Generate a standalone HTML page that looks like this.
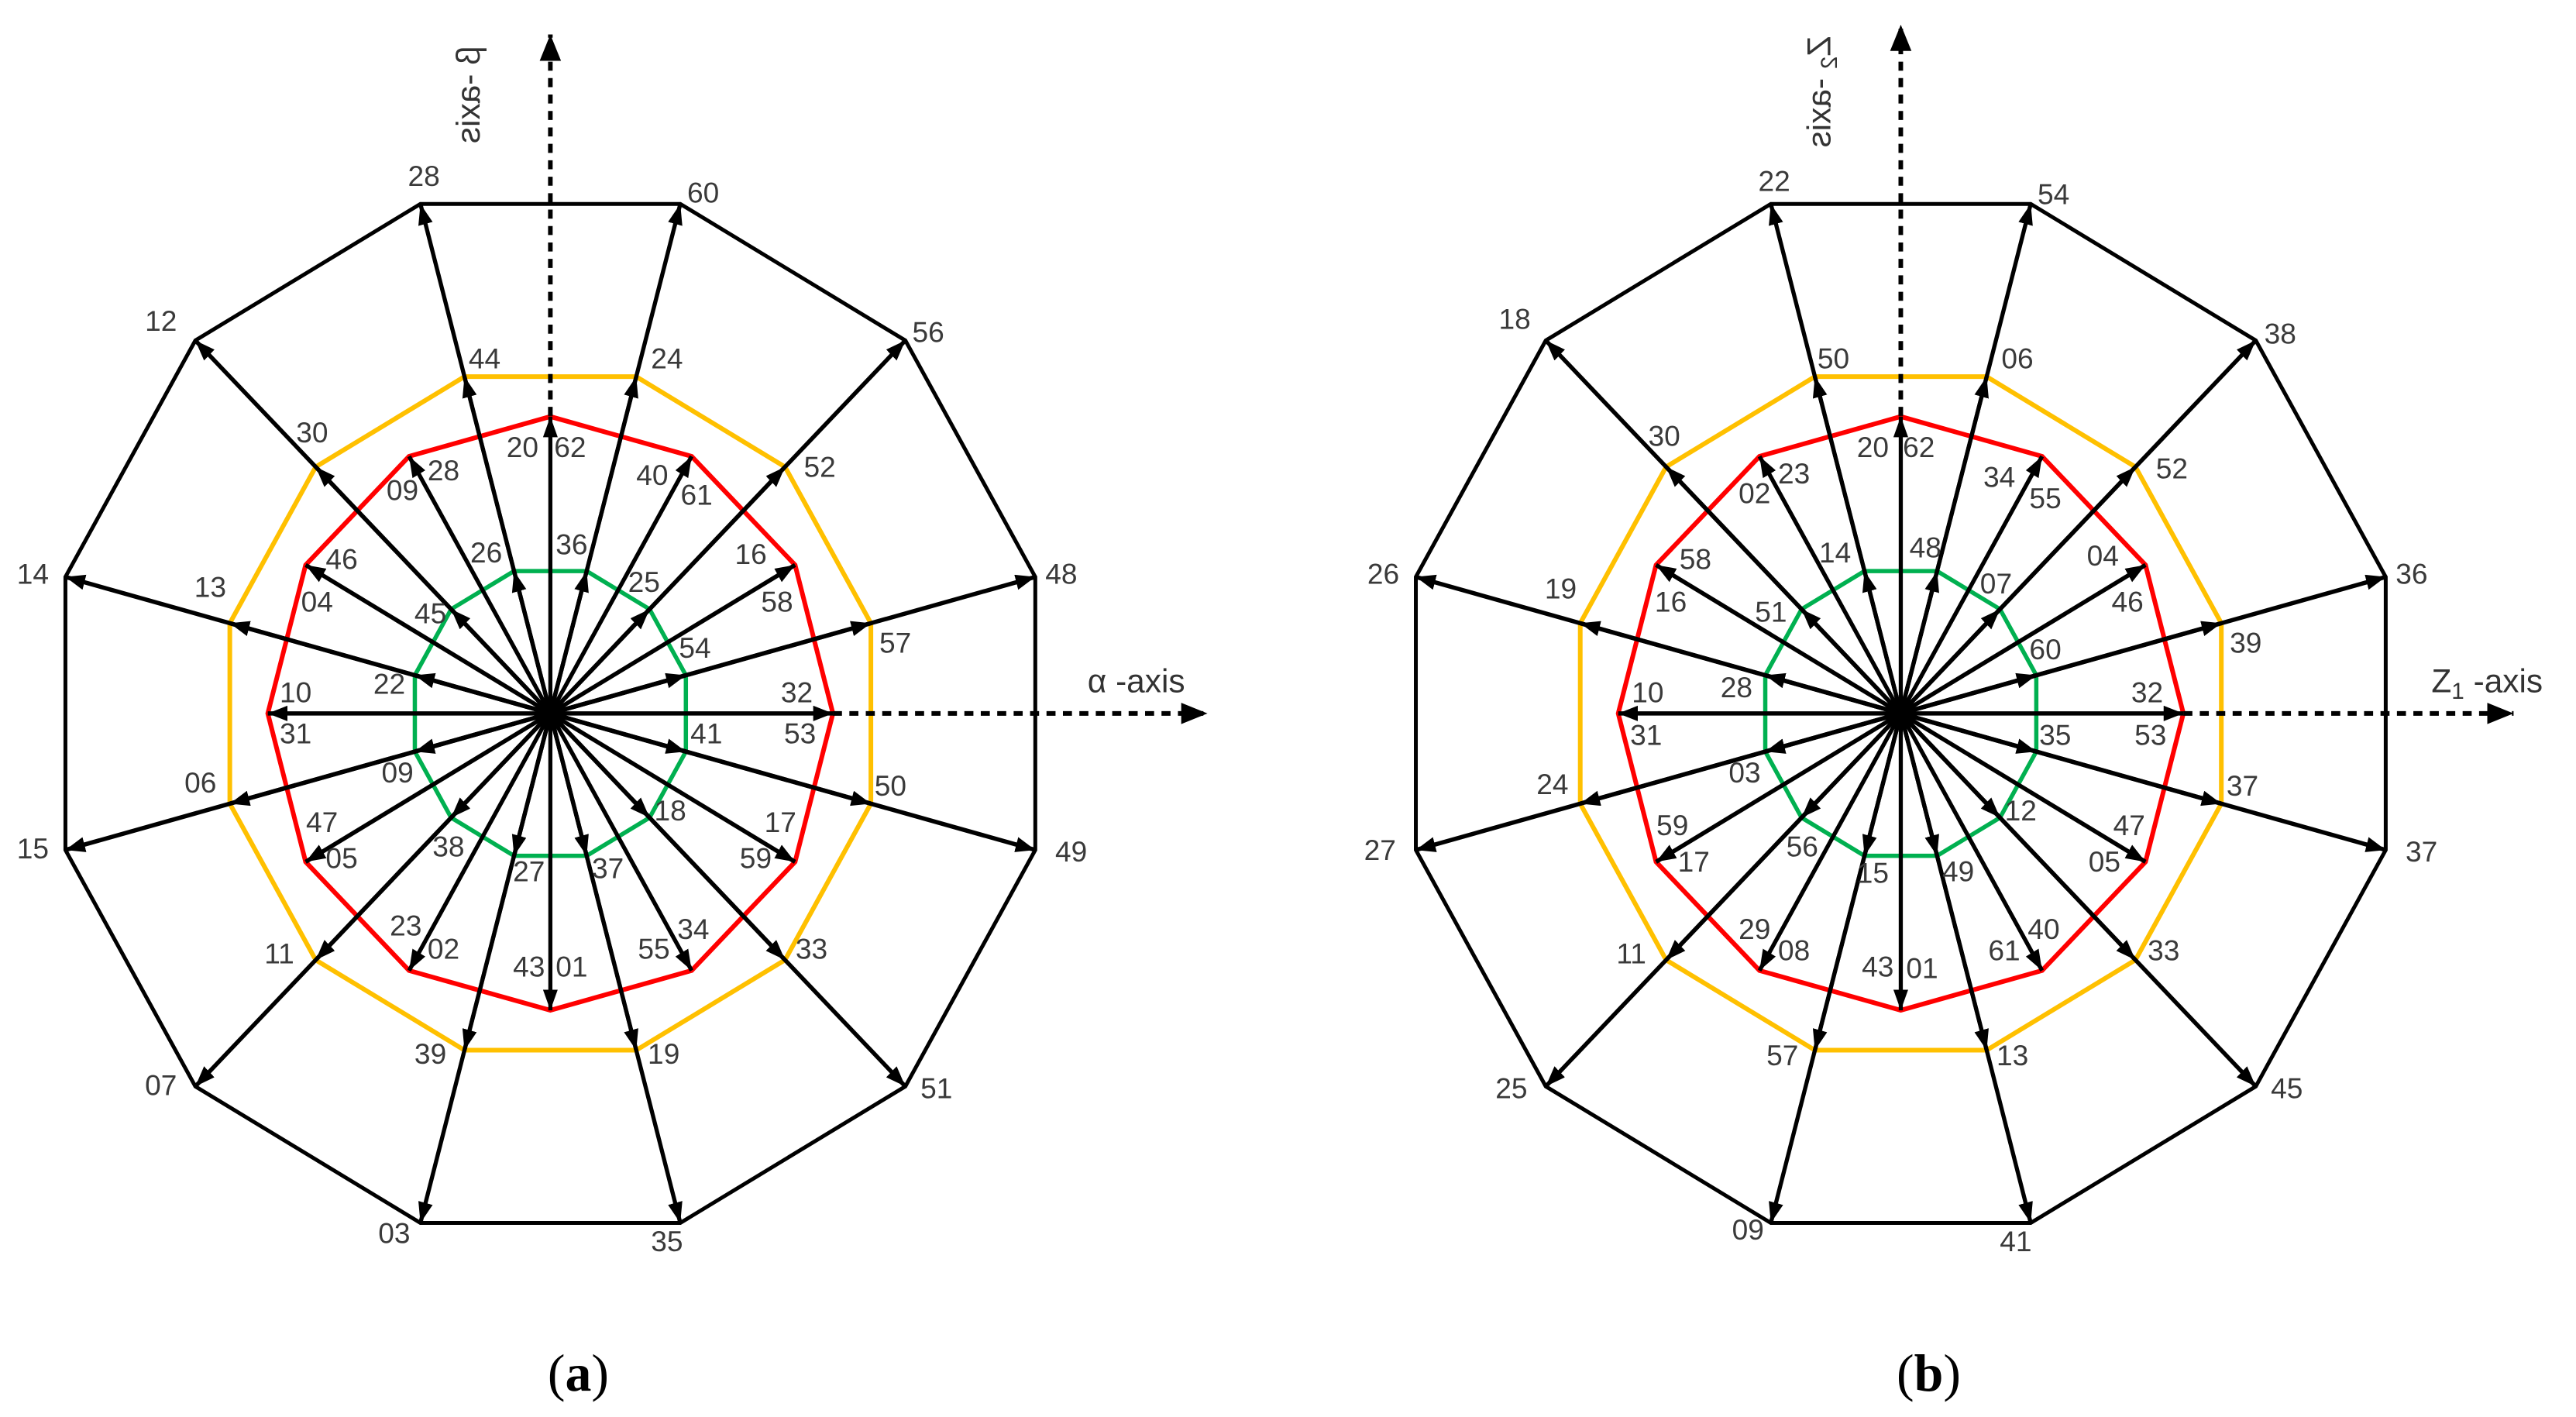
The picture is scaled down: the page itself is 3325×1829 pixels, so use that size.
<!DOCTYPE html>
<html><head><meta charset="utf-8"><style>
html,body{margin:0;padding:0;background:#fff;}
svg{display:block;}
.t{font-family:"Liberation Sans",sans-serif;font-size:17.5px;fill:#3a3a3a;text-anchor:middle;dominant-baseline:central;}
.ax{font-family:"Liberation Sans",sans-serif;font-size:20px;fill:#333;}
.cap{font-family:"Liberation Serif",serif;font-size:32px;fill:#000;text-anchor:middle;}
line.v{stroke:#000;stroke-width:2.5;marker-end:url(#ah);}
</style></head><body>
<svg width="3325" height="1829" viewBox="0 0 1568 862" preserveAspectRatio="none" xmlns="http://www.w3.org/2000/svg">
<defs>
<marker id="ah" markerUnits="userSpaceOnUse" markerWidth="13" markerHeight="10" refX="12" refY="4.5" orient="auto"><path d="M0,0 L12,4.5 L0,9 z" fill="#000"/></marker>
<marker id="axh" markerUnits="userSpaceOnUse" markerWidth="18" markerHeight="14" refX="16" refY="6.5" orient="auto"><path d="M0,0 L16,6.5 L0,13 z" fill="#000"/></marker>
<g id="d">
<polygon vector-effect="non-scaling-stroke" transform="scale(305.6)" stroke="#000" stroke-width="5" fill="none" points=".9659,-.2588 .7071,-.7071 .2588,-.9659 -.2588,-.9659 -.7071,-.7071 -.9659,-.2588 -.9659,.2588 -.7071,.7071 -.2588,.9659 .2588,.9659 .7071,.7071 .9659,.2588"/>
<polygon vector-effect="non-scaling-stroke" transform="scale(202)" stroke="#FFC000" stroke-width="6" fill="none" points=".9659,-.2588 .7071,-.7071 .2588,-.9659 -.2588,-.9659 -.7071,-.7071 -.9659,-.2588 -.9659,.2588 -.7071,.7071 -.2588,.9659 .2588,.9659 .7071,.7071 .9659,.2588"/>
<polygon vector-effect="non-scaling-stroke" transform="rotate(15) scale(172)" stroke="#FF0000" stroke-width="6" fill="none" points=".9659,-.2588 .7071,-.7071 .2588,-.9659 -.2588,-.9659 -.7071,-.7071 -.9659,-.2588 -.9659,.2588 -.7071,.7071 -.2588,.9659 .2588,.9659 .7071,.7071 .9659,.2588"/>
<polygon vector-effect="non-scaling-stroke" transform="scale(85.4)" stroke="#00B050" stroke-width="5.5" fill="none" points=".9659,-.2588 .7071,-.7071 .2588,-.9659 -.2588,-.9659 -.7071,-.7071 -.9659,-.2588 -.9659,.2588 -.7071,.7071 -.2588,.9659 .2588,.9659 .7071,.7071 .9659,.2588"/>
<g transform="rotate(15)"><line class="v" x2="305.6"/><line class="v" x2="202"/><line class="v" x2="85.4"/></g>
<g transform="rotate(45)"><line class="v" x2="305.6"/><line class="v" x2="202"/><line class="v" x2="85.4"/></g>
<g transform="rotate(75)"><line class="v" x2="305.6"/><line class="v" x2="202"/><line class="v" x2="85.4"/></g>
<g transform="rotate(105)"><line class="v" x2="305.6"/><line class="v" x2="202"/><line class="v" x2="85.4"/></g>
<g transform="rotate(135)"><line class="v" x2="305.6"/><line class="v" x2="202"/><line class="v" x2="85.4"/></g>
<g transform="rotate(165)"><line class="v" x2="305.6"/><line class="v" x2="202"/><line class="v" x2="85.4"/></g>
<g transform="rotate(195)"><line class="v" x2="305.6"/><line class="v" x2="202"/><line class="v" x2="85.4"/></g>
<g transform="rotate(225)"><line class="v" x2="305.6"/><line class="v" x2="202"/><line class="v" x2="85.4"/></g>
<g transform="rotate(255)"><line class="v" x2="305.6"/><line class="v" x2="202"/><line class="v" x2="85.4"/></g>
<g transform="rotate(285)"><line class="v" x2="305.6"/><line class="v" x2="202"/><line class="v" x2="85.4"/></g>
<g transform="rotate(315)"><line class="v" x2="305.6"/><line class="v" x2="202"/><line class="v" x2="85.4"/></g>
<g transform="rotate(345)"><line class="v" x2="305.6"/><line class="v" x2="202"/><line class="v" x2="85.4"/></g>
<g transform="rotate(0)"><line class="v" x2="172"/></g>
<g transform="rotate(30)"><line class="v" x2="172"/></g>
<g transform="rotate(60)"><line class="v" x2="172"/></g>
<g transform="rotate(90)"><line class="v" x2="172"/></g>
<g transform="rotate(120)"><line class="v" x2="172"/></g>
<g transform="rotate(150)"><line class="v" x2="172"/></g>
<g transform="rotate(180)"><line class="v" x2="172"/></g>
<g transform="rotate(210)"><line class="v" x2="172"/></g>
<g transform="rotate(240)"><line class="v" x2="172"/></g>
<g transform="rotate(270)"><line class="v" x2="172"/></g>
<g transform="rotate(300)"><line class="v" x2="172"/></g>
<g transform="rotate(330)"><line class="v" x2="172"/></g>
<circle r="7" fill="#000"/>
</g>
</defs>

<use href="#d" transform="translate(335,434) scale(1,1.05)"/>
<use href="#d" transform="translate(1157,434) scale(1,1.05)"/>

<g stroke="#000" stroke-width="2.8" stroke-dasharray="5.5 4.5" fill="none">
<line x1="335" y1="253" x2="335" y2="21" marker-end="url(#axh)"/>
<line x1="507" y1="434" x2="735" y2="434" marker-end="url(#axh)"/>
<line x1="1157" y1="253" x2="1157" y2="15" marker-end="url(#axh)"/>
<line x1="1329" y1="434" x2="1530" y2="434" marker-end="url(#axh)"/>
</g>
<text class="ax" transform="translate(306,28) rotate(90) scale(1,-1) translate(0,-14)">β -axis</text>
<text class="ax" x="662" y="421">α -axis</text>
<text class="ax" transform="translate(1128,22) rotate(90) scale(1,-1) translate(0,-14)">Z<tspan font-size="14" dy="4">2</tspan><tspan dy="-4"> -axis</tspan></text>
<text class="ax" x="1480" y="421">Z<tspan font-size="14" dy="4">1</tspan><tspan dy="-4"> -axis</tspan></text>

<text class="cap" x="352" y="846">(<tspan font-weight="bold">a</tspan>)</text>
<text class="cap" x="1174" y="846">(<tspan font-weight="bold">b</tspan>)</text>

<g>
<text class="t" x="258" y="107">28</text><text class="t" x="428" y="117">60</text>
<text class="t" x="98" y="195">12</text><text class="t" x="565" y="202">56</text>
<text class="t" x="20" y="349">14</text><text class="t" x="646" y="349">48</text>
<text class="t" x="20" y="516">15</text><text class="t" x="652" y="518">49</text>
<text class="t" x="98" y="660">07</text><text class="t" x="570" y="662">51</text>
<text class="t" x="240" y="750">03</text><text class="t" x="406" y="755">35</text>
<text class="t" x="295" y="218">44</text><text class="t" x="406" y="218">24</text>
<text class="t" x="190" y="263">30</text><text class="t" x="499" y="284">52</text>
<text class="t" x="128" y="357">13</text><text class="t" x="545" y="391">57</text>
<text class="t" x="122" y="476">06</text><text class="t" x="542" y="478">50</text>
<text class="t" x="170" y="580">11</text><text class="t" x="494" y="577">33</text>
<text class="t" x="262" y="641">39</text><text class="t" x="404" y="641">19</text>
<text class="t" x="318" y="272">20</text><text class="t" x="347" y="272">62</text>
<text class="t" x="245" y="298">09</text><text class="t" x="270" y="286">28</text>
<text class="t" x="397" y="289">40</text><text class="t" x="424" y="301">61</text>
<text class="t" x="208" y="340">46</text><text class="t" x="193" y="366">04</text>
<text class="t" x="457" y="337">16</text><text class="t" x="473" y="366">58</text>
<text class="t" x="180" y="421">10</text><text class="t" x="180" y="446">31</text>
<text class="t" x="485" y="421">32</text><text class="t" x="487" y="446">53</text>
<text class="t" x="196" y="500">47</text><text class="t" x="208" y="522">05</text>
<text class="t" x="475" y="500">17</text><text class="t" x="460" y="522">59</text>
<text class="t" x="247" y="563">23</text><text class="t" x="270" y="577">02</text>
<text class="t" x="422" y="565">34</text><text class="t" x="398" y="577">55</text>
<text class="t" x="322" y="588">43</text><text class="t" x="348" y="588">01</text>
<text class="t" x="296" y="336">26</text><text class="t" x="348" y="331">36</text>
<text class="t" x="392" y="354">25</text><text class="t" x="262" y="373">45</text>
<text class="t" x="423" y="394">54</text><text class="t" x="237" y="416">22</text>
<text class="t" x="430" y="446">41</text><text class="t" x="242" y="470">09</text>
<text class="t" x="408" y="493">18</text><text class="t" x="273" y="515">38</text>
<text class="t" x="322" y="530">27</text><text class="t" x="370" y="528">37</text>
</g>

<g>
<text class="t" x="1080" y="110">22</text><text class="t" x="1250" y="118">54</text>
<text class="t" x="922" y="194">18</text><text class="t" x="1388" y="203">38</text>
<text class="t" x="842" y="349">26</text><text class="t" x="1468" y="349">36</text>
<text class="t" x="840" y="517">27</text><text class="t" x="1474" y="518">37</text>
<text class="t" x="920" y="662">25</text><text class="t" x="1392" y="662">45</text>
<text class="t" x="1064" y="748">09</text><text class="t" x="1227" y="755">41</text>
<text class="t" x="1116" y="218">50</text><text class="t" x="1228" y="218">06</text>
<text class="t" x="1013" y="265">30</text><text class="t" x="1322" y="285">52</text>
<text class="t" x="950" y="358">19</text><text class="t" x="1367" y="391">39</text>
<text class="t" x="945" y="477">24</text><text class="t" x="1365" y="478">37</text>
<text class="t" x="993" y="580">11</text><text class="t" x="1317" y="578">33</text>
<text class="t" x="1085" y="642">57</text><text class="t" x="1225" y="642">13</text>
<text class="t" x="1140" y="272">20</text><text class="t" x="1168" y="272">62</text>
<text class="t" x="1068" y="300">02</text><text class="t" x="1092" y="288">23</text>
<text class="t" x="1217" y="290">34</text><text class="t" x="1245" y="303">55</text>
<text class="t" x="1032" y="340">58</text><text class="t" x="1017" y="366">16</text>
<text class="t" x="1280" y="338">04</text><text class="t" x="1295" y="366">46</text>
<text class="t" x="1003" y="421">10</text><text class="t" x="1002" y="447">31</text>
<text class="t" x="1307" y="421">32</text><text class="t" x="1309" y="447">53</text>
<text class="t" x="1018" y="502">59</text><text class="t" x="1031" y="524">17</text>
<text class="t" x="1296" y="502">47</text><text class="t" x="1281" y="524">05</text>
<text class="t" x="1068" y="565">29</text><text class="t" x="1092" y="578">08</text>
<text class="t" x="1220" y="578">61</text><text class="t" x="1244" y="565">40</text>
<text class="t" x="1143" y="588">43</text><text class="t" x="1170" y="589">01</text>
<text class="t" x="1117" y="336">14</text><text class="t" x="1172" y="333">48</text>
<text class="t" x="1215" y="355">07</text><text class="t" x="1078" y="372">51</text>
<text class="t" x="1245" y="395">60</text><text class="t" x="1057" y="418">28</text>
<text class="t" x="1251" y="447">35</text><text class="t" x="1062" y="470">03</text>
<text class="t" x="1230" y="493">12</text><text class="t" x="1097" y="515">56</text>
<text class="t" x="1140" y="531">15</text><text class="t" x="1192" y="530">49</text>
</g>
</svg>
</body></html>
